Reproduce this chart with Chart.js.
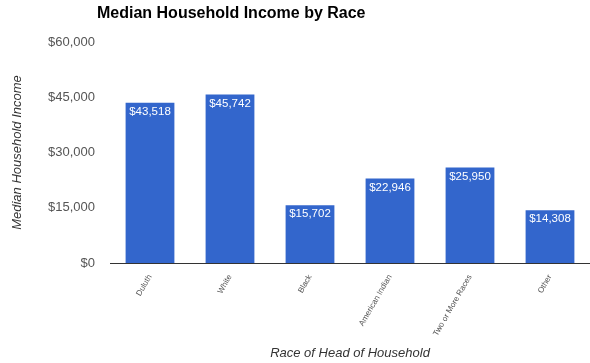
<!DOCTYPE html>
<html>
<head>
<meta charset="utf-8">
<script src="https://cdn.jsdelivr.net/npm/chart.js@4/dist/chart.umd.min.js"></script>
<style>
  body { margin: 0; background: #fff; }
  #wrap { width: 590px; height: 363px; }
</style>
</head>
<body>
<div id="wrap"><canvas id="grafico" width="590" height="363"></canvas></div>
<script>
// Datos del gráfico
const categorias = ["Duluth", "White", "Black", "American Indian", "Two or More Races", "Other"];
const ingresos = [43518, 45742, 15702, 22946, 25950, 14308];
const ticksY = [0, 15000, 30000, 45000, 60000];

const TITULO = "Median Household Income by Race";
const FUENTE = "'Liberation Sans', Arial, sans-serif";

const fmt = v => "$" + v.toLocaleString("en-US");

// Título alineado a la izquierda, encima del área del gráfico
const tituloPlugin = {
  id: "tituloIzq",
  afterDraw(chart) {
    const ctx = chart.ctx;
    ctx.save();
    ctx.font = "bold 16px " + FUENTE;
    ctx.fillStyle = "#000";
    ctx.textAlign = "left";
    ctx.textBaseline = "middle";
    ctx.fillText(TITULO, 97, 14);
    ctx.restore();
  }
};

// Valor en blanco dentro de cada barra, arriba
const etiquetasPlugin = {
  id: "etiquetas",
  afterDatasetsDraw(chart) {
    const ctx = chart.ctx;
    const meta = chart.getDatasetMeta(0);
    ctx.save();
    ctx.font = "11.5px " + FUENTE;
    ctx.fillStyle = "#fff";
    ctx.textAlign = "center";
    ctx.textBaseline = "middle";
    meta.data.forEach((bar, i) => {
      ctx.fillText(fmt(ingresos[i]), bar.x, bar.y + 9);
    });
    ctx.restore();
  }
};

new Chart(document.getElementById("grafico").getContext("2d"), {
  type: "bar",
  data: {
    labels: categorias,
    datasets: [{
      data: ingresos,
      backgroundColor: "#3366cc",
      categoryPercentage: 1,
      barPercentage: 0.61
    }]
  },
  options: {
    responsive: false,
    animation: false,
    layout: { padding: { top: 42, left: 10, right: 0, bottom: 0 } },
    plugins: {
      legend: { display: false },
      tooltip: { enabled: false }
    },
    scales: {
      x: {
        grid: { display: false },
        border: { display: true, color: "#333", width: 1 },
        ticks: {
          font: { family: FUENTE, size: 8 },
          color: "#555",
          minRotation: 60,
          maxRotation: 60,
          padding: 2
        },
        title: {
          display: true,
          text: "Race of Head of Household",
          font: { family: FUENTE, size: 13, style: "italic" },
          color: "#333",
          padding: { top: 0, bottom: 2 }
        },
        afterFit: s => { s.height = 100; }
      },
      y: {
        min: 0,
        max: 60000,
        grid: { display: false },
        border: { display: false },
        afterBuildTicks: s => { s.ticks = ticksY.map(v => ({ value: v })); },
        ticks: {
          font: { family: FUENTE, size: 13 },
          color: "#555",
          padding: 7,
          callback: v => fmt(v)
        },
        title: {
          display: true,
          text: "Median Household Income",
          font: { family: FUENTE, size: 13, style: "italic" },
          color: "#333",
          padding: 0
        },
        afterFit: s => { s.width = 100; }
      }
    }
  },
  plugins: [tituloPlugin, etiquetasPlugin]
});
</script>
</body>
</html>
